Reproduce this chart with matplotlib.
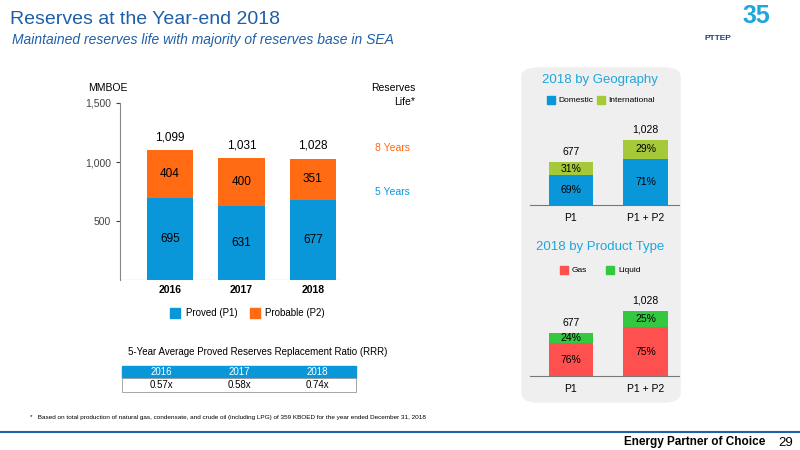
import matplotlib
matplotlib.use("Agg")
import matplotlib.pyplot as plt
from matplotlib.patches import FancyBboxPatch, Rectangle
import numpy as np

years = ["2016", "2017", "2018"]
proved = [695, 631, 677]
probable = [404, 400, 351]
totals = [1099, 1031, 1028]
rrr = ["0.57x", "0.58x", "0.74x"]

cats = ["P1", "P1 + P2"]
cat_totals = [677, 1028]
domestic_pct = [69, 71]
intl_pct = [31, 29]
gas_pct = [76, 75]
liquid_pct = [24, 25]

BLUE = "#0a97d9"
ORANGE = "#ff6a13"
LGREEN = "#a6c93a"
RED = "#ff5050"
GREEN = "#33c840"
TITLE = "#1f5fa8"
CYAN = "#1ea7dd"

plt.rcParams['font.family'] = ['Liberation Sans', 'DejaVu Sans']
fig = plt.figure(figsize=(8, 4.5), dpi=100)
W, H = 800, 450
def fx(x): return x / W
def fy(y): return 1 - y / H

fig.text(fx(10), fy(20), "Reserves at the Year-end 2018", fontsize=14, color=TITLE, va="center")
fig.text(fx(12), fy(40), "Maintained reserves life with majority of reserves base in SEA", fontsize=10,
         color=TITLE, style="italic", va="center")
fig.text(fx(756), fy(16), "35", fontsize=18, color=CYAN, ha="center", va="center", weight="bold")
fig.text(fx(718), fy(40), "PTTEP", fontsize=6, color="#1f3f8a", ha="center", weight="bold")

fig.patches.append(FancyBboxPatch((fx(522), fy(402)), fx(158), (402 - 68) / H,
                                  boxstyle="round,pad=0,rounding_size=0.02", color="#efefef",
                                  transform=fig.transFigure, zorder=-5))

ax = fig.add_axes([fx(120), fy(280), fx(220), (280 - 103) / H])
x = np.arange(3)
ax.bar(x, proved, width=0.65, color=BLUE)
ax.bar(x, probable, bottom=proved, width=0.65, color=ORANGE)
for i in range(3):
    ax.text(x[i], proved[i] / 2, str(proved[i]), ha="center", va="center", fontsize=8.5)
    ax.text(x[i], proved[i] + probable[i] / 2, str(probable[i]), ha="center", va="center", fontsize=8.5)
    ax.text(x[i], totals[i] + 60, f"{totals[i]:,}", ha="center", va="bottom", fontsize=8.5)
ax.set_xlim(-0.7, 2.38)
ax.set_ylim(0, 1500)
ax.set_yticks([500, 1000, 1500])
ax.set_yticklabels(["500", "1,000", "1,500"])
ax.set_xticks(x)
ax.set_xticklabels(years, fontsize=7.5, weight="bold")
for s in ["top", "right", "bottom"]:
    ax.spines[s].set_visible(False)
ax.spines["left"].set_color("#888888")
ax.tick_params(axis="y", labelsize=7.5, colors="#444444", length=3)
ax.tick_params(axis="x", length=0)
ax.axhline(0, color="#888888", lw=0.8)

fig.text(fx(88), fy(88), "MMBOE", fontsize=7.5, va="center")
fig.text(fx(415), fy(88), "Reserves", fontsize=7.5, ha="right", va="center")
fig.text(fx(415), fy(102), "Life*", fontsize=7.5, ha="right", va="center")
fig.text(fx(410), fy(148), "8 Years", fontsize=7.5, ha="right", va="center", color=ORANGE)
fig.text(fx(410), fy(192), "5 Years", fontsize=7.5, ha="right", va="center", color=BLUE)

fig.patches.append(Rectangle((fx(170), fy(318)), fx(10), 10 / H, color=BLUE, transform=fig.transFigure))
fig.text(fx(186), fy(313), "Proved (P1)", fontsize=7, va="center")
fig.patches.append(Rectangle((fx(250), fy(318)), fx(10), 10 / H, color=ORANGE, transform=fig.transFigure))
fig.text(fx(265), fy(313), "Probable (P2)", fontsize=7, va="center")

fig.text(fx(128), fy(352), "5-Year Average Proved Reserves Replacement Ratio (RRR)", fontsize=7, va="center")
x0, cw = 122, 78
fig.patches.append(Rectangle((fx(x0), fy(378)), fx(cw * 3), 12 / H, color=BLUE, transform=fig.transFigure))
fig.patches.append(Rectangle((fx(x0), fy(392)), fx(cw * 3), 14 / H, facecolor="white", edgecolor="#999999",
                             lw=0.6, transform=fig.transFigure))
for i in range(3):
    fig.text(fx(x0 + cw * i + cw / 2), fy(372), years[i], fontsize=7, color="white", ha="center", va="center")
    fig.text(fx(x0 + cw * i + cw / 2), fy(385), rrr[i], fontsize=7, ha="center", va="center")
fig.text(fx(30), fy(418), "*   Based on total production of natural gas, condensate, and crude oil (including LPG) of 359 KBOED for the year ended December 31, 2018",
         fontsize=4.6, va="center")

fig.text(fx(600), fy(80), "2018 by Geography", fontsize=9.5, color=CYAN, ha="center", va="center")
fig.patches.append(Rectangle((fx(547), fy(104)), fx(8), 8 / H, color=BLUE, transform=fig.transFigure))
fig.text(fx(558), fy(100), "Domestic", fontsize=6, va="center")
fig.patches.append(Rectangle((fx(597), fy(104)), fx(8), 8 / H, color=LGREEN, transform=fig.transFigure))
fig.text(fx(608), fy(100), "International", fontsize=6, va="center")
fig.text(fx(600), fy(247), "2018 by Product Type", fontsize=9.5, color=CYAN, ha="center", va="center")
fig.patches.append(Rectangle((fx(560), fy(274)), fx(8), 8 / H, color=RED, transform=fig.transFigure))
fig.text(fx(572), fy(270), "Gas", fontsize=6, va="center")
fig.patches.append(Rectangle((fx(606), fy(274)), fx(8), 8 / H, color=GREEN, transform=fig.transFigure))
fig.text(fx(618), fy(270), "Liquid", fontsize=6, va="center")

def small(base_y, c1, c2, p1, p2):
    a = fig.add_axes([fx(530), fy(base_y), fx(149), 85 / H])
    a.patch.set_alpha(0)
    xs = np.arange(2)
    v1 = [t * p / 100 for t, p in zip(cat_totals, p1)]
    v2 = [t * p / 100 for t, p in zip(cat_totals, p2)]
    a.bar(xs, v1, width=0.6, color=c1)
    a.bar(xs, v2, bottom=v1, width=0.6, color=c2)
    for i in range(2):
        a.text(xs[i], v1[i] / 2, f"{p1[i]}%", ha="center", va="center", fontsize=7.5)
        a.text(xs[i], v1[i] + v2[i] / 2, f"{p2[i]}%", ha="center", va="center", fontsize=7.5)
        a.text(xs[i], cat_totals[i] + 90, f"{cat_totals[i]:,}", ha="center", va="bottom", fontsize=7.5)
    a.set_xlim(-0.55, 1.45)
    a.set_ylim(0, 1345)
    a.set_yticks([])
    a.set_xticks(xs)
    a.set_xticklabels(cats, fontsize=7.5)
    a.tick_params(axis="x", length=0, pad=6)
    for s in ["top", "right", "left"]:
        a.spines[s].set_visible(False)
    a.spines["bottom"].set_color("#777777")

small(205, BLUE, LGREEN, domestic_pct, intl_pct)
small(376, RED, GREEN, gas_pct, liquid_pct)

fig.add_artist(plt.Line2D([0, 1], [fy(432), fy(432)], color="#1f5fa8", lw=1.5, transform=fig.transFigure))
fig.text(fx(765), fy(442), "Energy Partner of Choice", fontsize=8.5, weight="bold", ha="right", va="center")
fig.text(fx(786), fy(443), "29", fontsize=9.5, ha="center", va="center")

fig.savefig("out.png", dpi=100)
